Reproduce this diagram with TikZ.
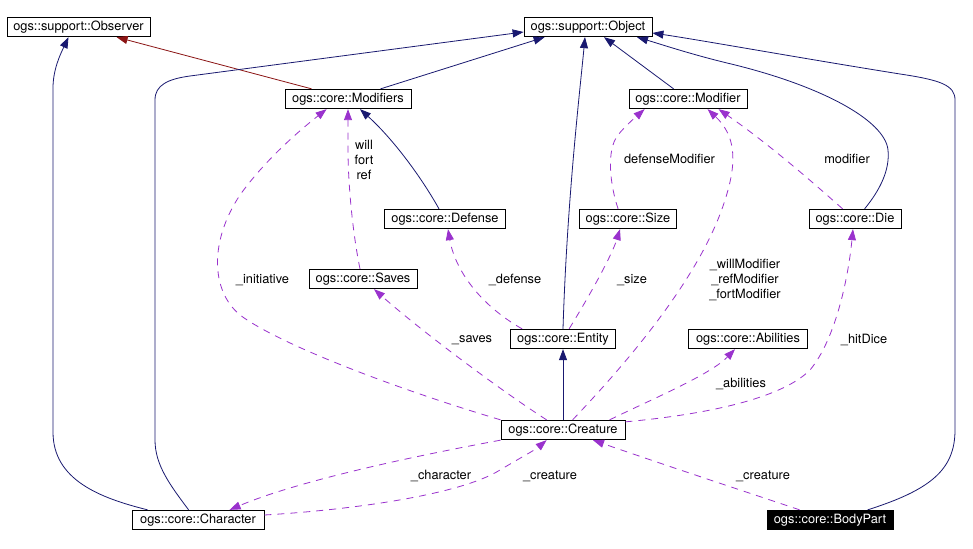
\documentclass[tikz,border=0pt]{standalone}
\usepackage{fontspec}
\setmainfont{TeX Gyre Heros}
\usetikzlibrary{arrows.meta}
\definecolor{navyedge}{RGB}{25,25,112}
\definecolor{redge}{RGB}{139,20,20}
\definecolor{useedge}{RGB}{154,50,205}
\begin{document}
\begin{tikzpicture}[x=1pt,y=-1pt,
  cls/.style={draw,line width=0.8pt,inner sep=0pt,minimum height=19.5pt,font=\fontsize{12.8}{14}\selectfont},
  inh/.style={navyedge,line width=0.8pt,-{Triangle[length=11pt,width=8pt]}},
  inhred/.style={redge,line width=0.8pt,-{Triangle[length=11pt,width=8pt]}},
  use/.style={useedge,line width=0.8pt,dash pattern=on 7pt off 6pt,-{Triangle[length=11pt,width=8pt]}},
  lbl/.style={font=\fontsize{12.8}{15}\selectfont,align=center,inner sep=0pt}
]
\useasboundingbox (0,0) rectangle (973,548);
\fill[white] (0,0) rectangle (973,548);

% nodes
\node[cls,minimum width=143pt] (obs) at (78.5,27) {ogs::support::Observer};
\node[cls,minimum width=128pt] (obj) at (588,27) {ogs::support::Object};
\node[cls,minimum width=126pt] (mods) at (348,99) {ogs::core::Modifiers};
\node[cls,minimum width=118pt] (mod) at (688,99) {ogs::core::Modifier};
\node[cls,minimum width=121pt] (def) at (445,219) {ogs::core::Defense};
\node[cls,minimum width=97pt] (size) at (628,219) {ogs::core::Size};
\node[cls,minimum width=92pt] (die) at (855,219) {ogs::core::Die};
\node[cls,minimum width=108pt] (saves) at (363,279) {ogs::core::Saves};
\node[cls,minimum width=105pt] (ent) at (563,339) {ogs::core::Entity};
\node[cls,minimum width=119pt] (abil) at (748,339) {ogs::core::Abilities};
\node[cls,minimum width=124pt] (crea) at (563,430) {ogs::core::Creature};
\node[cls,minimum width=132pt] (char) at (198,520) {ogs::core::Character};
\node[cls,minimum width=126pt,fill=black,text=white] (body) at (830,520) {ogs::core::BodyPart};

% inheritance
\draw[inhred] ([xshift=27pt]mods.north west) -- ([xshift=110pt]obs.south west);
\draw[inh] ([xshift=96pt]mods.north west) -- ([xshift=21pt]obj.south west);
\draw[inh] ([xshift=57pt]char.north west) .. controls (170,485) and (155,465) .. (155,440)
   -- (155,100) .. controls (155,85) and (168,79) .. (190,76) -- ([yshift=-5pt]obj.west);
\draw[inh] ([xshift=16pt]char.north west) .. controls (100,498) and (53,480) .. (53,432)
   -- (53,88) .. controls (53,70) and (60,55) .. ([xshift=-10pt]obs.south);
\draw[inh] (ent.north) .. controls (567,200) and (580,90) .. ([xshift=-3pt]obj.south);
\draw[inh] ([xshift=45pt]mod.north west) -- ([xshift=16pt]obj.south);
\draw[inh] ([xshift=56pt]die.north west) .. controls (880,190) and (890,170) .. (888,150)
   .. controls (885,120) and (820,85) .. (727,63) .. controls (690,54) and (660,44) .. ([xshift=49pt]obj.south);
\draw[inh] ([xshift=101pt]body.north west) .. controls (930,490) and (955,470) .. (955,430)
   -- (955,100) .. controls (955,85) and (940,80) .. (900,74)
   .. controls (800,58) and (700,40) .. ([yshift=-6pt]obj.east);
\draw[inh] ([xshift=-6pt]def.north) .. controls (420,175) and (392,138) .. ([xshift=12pt]mods.south);
\draw[inh] (crea.north) -- (ent.south);

% usage
\draw[use] ([xshift=-3pt]saves.north) .. controls (352,230) and (348,180) .. (348,150) -- (mods.south);
\node[lbl] (lwill) at (364,160) {will\\fort\\ref};
\draw[use] (crea.north west) .. controls (400,390) and (280,345) .. (240,315)
   .. controls (210,290) and (210,240) .. (240,195) .. controls (265,160) and (300,130) .. ([xshift=42pt]mods.south west);
\node[lbl] (linit) at (262.5,280) {\_initiative};
\draw[use] ([xshift=12pt]ent.north west) .. controls (480,305) and (455,270) .. ([xshift=3pt]def.south);
\node[lbl] (ldef) at (515,280) {\_defense};
\draw[use] ([xshift=59pt]ent.north west) .. controls (590,295) and (612,255) .. ([xshift=-8pt]size.south);
\node[lbl] (lsize) at (632,280) {\_size};
\draw[use] ([xshift=39pt]size.north west) .. controls (610,185) and (606,150) .. (618,135)
   .. controls (626,125) and (638,115) .. ([xshift=16pt]mod.south west);
\node[lbl] (ldm) at (669.5,159) {defenseModifier};
\draw[use] ([xshift=72pt]crea.north west) .. controls (620,370) and (700,280) .. (725,200)
   .. controls (738,160) and (735,135) .. ([xshift=79pt]mod.south west);
\node[lbl] (lwm) at (745,280) {\_willModifier\\\_refModifier\\\_fortModifier};
\draw[use] ([xshift=34pt]die.north west) .. controls (810,180) and (770,145) .. ([xshift=90pt]mod.south west);
\node[lbl] (lmod) at (847,159) {modifier};
\draw[use] ([xshift=46pt]crea.north west) .. controls (500,390) and (420,330) .. ([xshift=11pt]saves.south);
\node[lbl] (lsaves) at (472,340) {\_saves};
\draw[use] ([xshift=109pt]crea.north west) .. controls (650,400) and (710,375) .. ([xshift=-13pt]abil.south);
\node[lbl] (labil) at (741,384) {\_abilities};
\draw[use] ([yshift=-2pt]crea.north east) .. controls (700,415) and (780,400) .. (810,370)
   .. controls (835,340) and (848,280) .. ([xshift=-2pt]die.south);
\node[lbl] (lhit) at (864,340) {\_hitDice};
\draw[use] (crea.south west) .. controls (420,455) and (300,480) .. ([xshift=98pt]char.north west);
\node[lbl] (lchar) at (441,476) {\_character};
\draw[use] ([yshift=5pt]char.east) .. controls (350,510) and (460,495) .. (500,470)
   .. controls (520,458) and (535,450) .. ([xshift=46pt]crea.south west);
\node[lbl] (lcre1) at (550,476) {\_creature};
\draw[use] ([xshift=33pt]body.north west) .. controls (740,490) and (650,460) .. ([xshift=30pt]crea.south);
\node[lbl] (lcre2) at (763,476) {\_creature};
\end{tikzpicture}
\end{document}
